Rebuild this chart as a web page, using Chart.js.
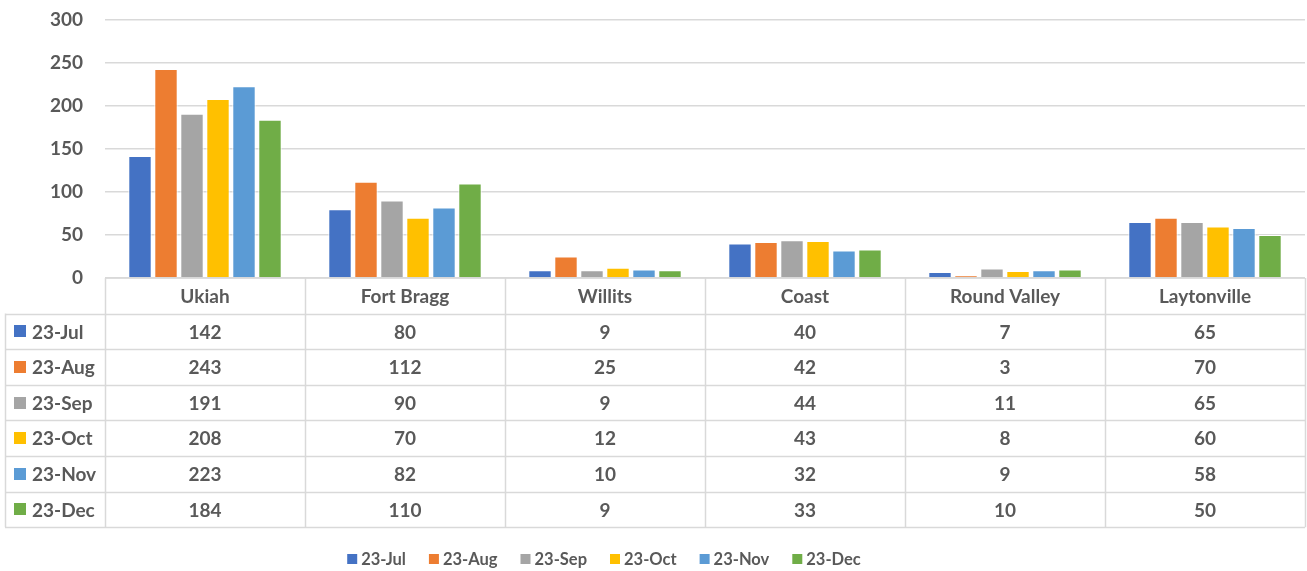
<!DOCTYPE html>
<html>
<head>
<meta charset="utf-8">
<script src="https://cdn.jsdelivr.net/npm/chart.js@4"></script>
<style>
  html, body { margin: 0; padding: 0; background: #fff; }
</style>
</head>
<body>
<canvas id="chart" width="1307" height="571"></canvas>
<script>
const categories = ['Ukiah', 'Fort Bragg', 'Willits', 'Coast', 'Round Valley', 'Laytonville'];
const months = ['23-Jul', '23-Aug', '23-Sep', '23-Oct', '23-Nov', '23-Dec'];

const jul = [142, 80, 9, 40, 7, 65];
const aug = [243, 112, 25, 42, 3, 70];
const sep = [191, 90, 9, 44, 11, 65];
const oct = [208, 70, 12, 43, 8, 60];
const nov = [223, 82, 10, 32, 9, 58];
const dec = [184, 110, 9, 33, 10, 50];

const yMax = 300;
const yStep = 50;

const colors = ['#4472C4', '#ED7D31', '#A5A5A5', '#FFC000', '#5B9BD5', '#70AD47'];
const textColor = '#595959';
const lineColor = '#d9d9d9';
const fontFamily = 'Lato, "Open Sans", sans-serif';

const seriesValues = [jul, aug, sep, oct, nov, dec];

// data table under the plot, Excel style
const tablePlugin = {
  id: 'dataTable',
  afterDraw(chart) {
    const { ctx, chartArea } = chart;
    const x = chart.scales.x;
    const top = chartArea.bottom;
    const rowH = 35.6;
    const rows = months.length + 1;
    const bottom = top + rowH * rows;
    const colW = (chartArea.right - chartArea.left) / categories.length;
    const tableLeft = 5;

    ctx.save();
    ctx.strokeStyle = lineColor;
    ctx.lineWidth = 1.5;
    ctx.beginPath();
    // horizontal lines
    ctx.moveTo(chartArea.left, top);
    ctx.lineTo(chartArea.right, top);
    for (let r = 1; r <= rows; r++) {
      const y = Math.round(top + rowH * r) + 0.5;
      ctx.moveTo(tableLeft, y);
      ctx.lineTo(chartArea.right, y);
    }
    // vertical lines
    ctx.moveTo(tableLeft + 0.5, top + rowH);
    ctx.lineTo(tableLeft + 0.5, bottom);
    for (let c = 0; c <= categories.length; c++) {
      const cx = Math.round(chartArea.left + colW * c) + 0.5;
      ctx.moveTo(cx, top);
      ctx.lineTo(cx, bottom);
    }
    ctx.stroke();

    ctx.fillStyle = textColor;
    ctx.font = 'bold 19px ' + fontFamily;
    ctx.textBaseline = 'middle';
    ctx.textAlign = 'center';
    categories.forEach((cat, i) => {
      ctx.fillText(cat, x.getPixelForValue(i), top + rowH / 2 + 1);
    });

    chart.data.datasets.forEach((ds, r) => {
      const cy = top + rowH * (r + 1.5) + 1;
      ds.data.forEach((v, i) => {
        ctx.textAlign = 'center';
        ctx.fillStyle = textColor;
        ctx.fillText(String(v), x.getPixelForValue(i), cy);
      });
      ctx.fillStyle = ds.backgroundColor;
      ctx.fillRect(14, Math.round(cy - 7), 12, 12);
      ctx.textAlign = 'left';
      ctx.fillStyle = textColor;
      ctx.fillText(ds.label, 32, cy);
    });
    ctx.restore();
  }
};

// legend along the bottom
const legendPlugin = {
  id: 'bottomLegend',
  afterDraw(chart) {
    const { ctx } = chart;
    const y = 559;
    const box = 10;
    const gap = 4;
    const spacing = 23;
    ctx.save();
    ctx.font = 'bold 16.5px ' + fontFamily;
    ctx.textBaseline = 'middle';
    ctx.textAlign = 'left';
    const items = chart.data.datasets.map(ds => ({
      label: ds.label,
      color: ds.backgroundColor,
      w: box + gap + ctx.measureText(ds.label).width
    }));
    const total = items.reduce((s, it) => s + it.w, 0) + spacing * (items.length - 1);
    let cx = 604 - total / 2;
    items.forEach(it => {
      ctx.fillStyle = it.color;
      ctx.fillRect(cx, y - box / 2, box, box);
      ctx.fillStyle = textColor;
      ctx.fillText(it.label, cx + box + gap, y + 1);
      cx += it.w + spacing;
    });
    ctx.restore();
  }
};

const ctx = document.getElementById('chart').getContext('2d');
new Chart(ctx, {
  type: 'bar',
  data: {
    labels: categories,
    datasets: months.map((m, i) => ({
      label: m,
      data: seriesValues[i],
      backgroundColor: colors[i],
      borderColor: '#ffffff',
      borderWidth: 1,
      categoryPercentage: 0.78,
      barPercentage: 0.9
    }))
  },
  options: {
    responsive: false,
    animation: false,
    layout: {
      padding: { top: 20, right: 2, bottom: 44, left: 0 }
    },
    plugins: {
      legend: { display: false },
      tooltip: { enabled: false }
    },
    scales: {
      x: {
        grid: { display: false },
        border: { display: false },
        ticks: { display: false },
        afterFit(scale) { scale.height = 249; }
      },
      y: {
        min: 0,
        max: yMax,
        ticks: {
          stepSize: yStep,
          padding: 22,
          color: textColor,
          font: { family: fontFamily, size: 19, weight: 'bold' }
        },
        grid: { color: lineColor, lineWidth: 1.5, drawTicks: false },
        border: { display: false },
        afterFit(scale) {
          scale.width = 105;
          scale.paddingTop = 0;
          scale.paddingBottom = 0;
        }
      }
    }
  },
  plugins: [tablePlugin, legendPlugin]
});
</script>
</body>
</html>
